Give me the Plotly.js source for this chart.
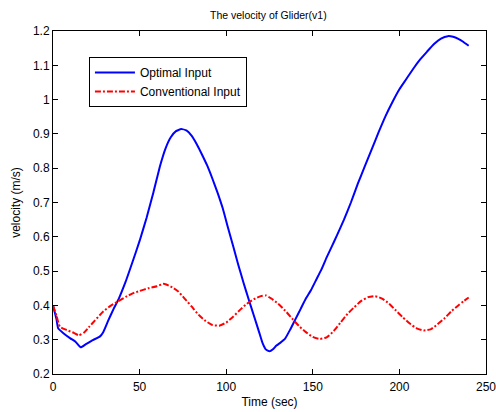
<!DOCTYPE html>
<html><head><meta charset="utf-8">
<script src="https://cdn.plot.ly/plotly-3.0.1.min.js"></script>
<style>html,body{margin:0;padding:0;background:#fff}#c{width:496px;height:412px}</style>
</head><body><div id="c"></div>
<script>
var optT = [0,2,3,6,10,13,16,19,23,27,29,32,35,38,42,46,50,54,58,62,65,68,71,74,77,80,83,86,89,92,95,98,101,104,107,110,113,116,119,121,123,125,127,129,131,134,137,140,143,146,149,152,155,158,161,164,168,172,176,180,184,188,192,196,200,204,208,212,216,220,224,228,231,234,237,240];
var optV = [0.40,0.36,0.333,0.319,0.304,0.294,0.278,0.287,0.299,0.309,0.322,0.357,0.39,0.42,0.47,0.528,0.588,0.655,0.73,0.81,0.858,0.89,0.908,0.914,0.91,0.895,0.87,0.84,0.808,0.77,0.729,0.683,0.627,0.573,0.518,0.466,0.417,0.37,0.322,0.29,0.271,0.266,0.272,0.283,0.29,0.303,0.33,0.36,0.39,0.42,0.445,0.475,0.505,0.54,0.572,0.605,0.65,0.70,0.755,0.805,0.855,0.905,0.952,0.993,1.03,1.06,1.09,1.117,1.14,1.162,1.178,1.185,1.183,1.177,1.168,1.157];
var conT = [0,2,4,8,12,15,18,21,24,29,33,37,42,46,50,55,60,64,68,72,76,80,84,88,92,96,100,104,108,112,116,120,123,126,130,134,138,142,146,150,154,158,162,166,170,174,178,182,186,190,194,198,202,206,210,214,218,222,226,230,234,237,240];
var conV = [0.40,0.37,0.338,0.328,0.32,0.313,0.321,0.338,0.355,0.382,0.398,0.41,0.425,0.435,0.442,0.45,0.456,0.463,0.455,0.442,0.42,0.397,0.373,0.355,0.343,0.341,0.35,0.367,0.387,0.405,0.418,0.427,0.429,0.42,0.405,0.385,0.362,0.34,0.322,0.308,0.302,0.307,0.325,0.35,0.375,0.395,0.413,0.424,0.427,0.42,0.405,0.385,0.365,0.347,0.333,0.327,0.33,0.345,0.362,0.383,0.4,0.412,0.423];
var xTicks = [0,50,100,150,200,250];
var yTicks = [0.2,0.3,0.4,0.5,0.6,0.7,0.8,0.9,1,1.1,1.2];
var yTickText = ['0.2','0.3','0.4','0.5','0.6','0.7','0.8','0.9','1','1.1','1.2'];

var F = 'Liberation Sans, Arial, sans-serif';
var traces = [
  {x: optT, y: optV, mode: 'lines', name: 'Optimal Input', line: {color: '#0000ff', width: 2, shape: 'spline', smoothing: 0.4}},
  {x: conT, y: conV, mode: 'lines', name: 'Conventional Input', line: {color: '#ff0000', width: 2, dash: '6px,2px,2px,2px', shape: 'spline', smoothing: 0.5}}
];
var ax = {showline: true, linecolor: '#000', linewidth: 1, mirror: 'ticks', ticks: 'inside', ticklen: 5, tickcolor: '#000', showgrid: false, zeroline: false, ticklabeloverflow: 'allow', tickfont: {family: F, size: 12, color: '#000'}};
var layout = {
  width: 496, height: 412,
  margin: {l: 53, r: 10, t: 31, b: 38},
  paper_bgcolor: '#fff', plot_bgcolor: '#fff',
  font: {family: F, color: '#000'},
  title: {text: 'The velocity of Glider(v1)', font: {family: F, size: 10.5, color: '#000'}, x: 0.541, xanchor: 'center', y: 0.964, yanchor: 'middle'},
  xaxis: Object.assign({}, ax, {range: [0, 250], tickvals: xTicks, ticktext: xTicks.map(String), ticklabelstandoff: 2, title: {text: 'Time (sec)', font: {family: F, size: 12}, standoff: 4}}),
  yaxis: Object.assign({}, ax, {range: [0.2, 1.2], tickvals: yTicks, ticktext: yTickText, title: {text: 'velocity (m/s)', font: {family: F, size: 12}, standoff: 9}}),
  showlegend: true,
  legend: {x: 0.083, y: 0.924, xanchor: 'left', yanchor: 'top', bgcolor: '#fff', bordercolor: '#000', borderwidth: 1, font: {family: F, size: 12, color: '#000'}, tracegroupgap: 0, itemwidth: 40}
};
Plotly.newPlot('c', traces, layout, {staticPlot: true});
</script></body></html>
